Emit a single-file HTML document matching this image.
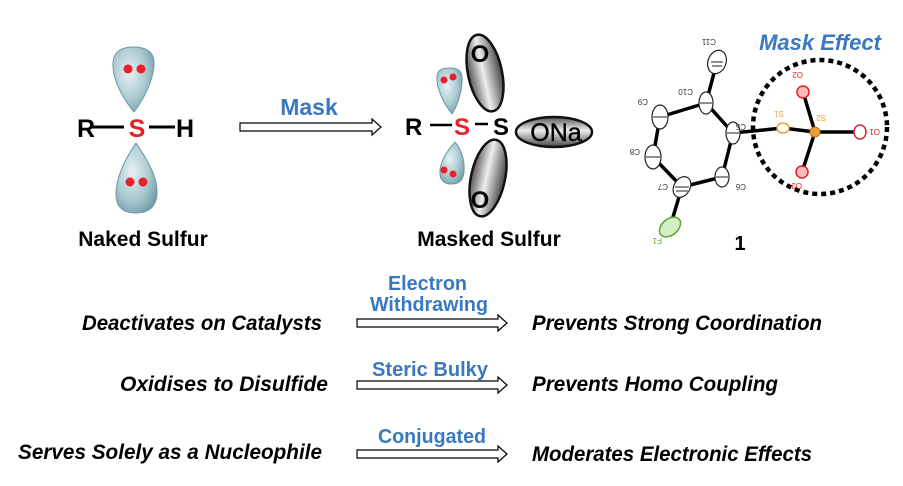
<!DOCTYPE html>
<html><head><meta charset="utf-8"><style>
html,body{margin:0;padding:0;background:#fff;}
svg{display:block;}
</style></head><body>
<svg width="903" height="486" viewBox="0 0 903 486" xmlns="http://www.w3.org/2000/svg" font-family="Liberation Sans, Arial, sans-serif">
<defs>
<radialGradient id="blue" cx="0.4" cy="0.4" r="0.7">
<stop offset="0" stop-color="#e6f1f3"/><stop offset="0.6" stop-color="#a9c8cf"/><stop offset="1" stop-color="#6d9aa4"/>
</radialGradient>
<linearGradient id="grey" x1="0" y1="0" x2="1" y2="0">
<stop offset="0" stop-color="#555"/><stop offset="0.45" stop-color="#eee"/><stop offset="1" stop-color="#444"/>
</linearGradient>
<linearGradient id="greyH" x1="0" y1="0" x2="0" y2="1">
<stop offset="0" stop-color="#555"/><stop offset="0.45" stop-color="#eee"/><stop offset="1" stop-color="#444"/>
</linearGradient>
</defs>

<!-- Naked sulfur -->
<path d="M134,112 C124,100 112,80 113,63 C114,49 124,47 134,47 C145,47 155,51 154,65 C153,82 143,100 134,112 Z" fill="url(#blue)" stroke="#6a9aa3" stroke-width="1"/>
<circle cx="128" cy="69" r="4.5" fill="#e8202a"/><circle cx="141" cy="69" r="4.5" fill="#e8202a"/>
<path d="M136,143 C145,156 158,176 157,194 C156,209 147,213 136,213 C125,213 116,209 116,194 C116,176 127,156 136,143 Z" fill="url(#blue)" stroke="#6a9aa3" stroke-width="1"/>
<circle cx="130" cy="182" r="4.5" fill="#e8202a"/><circle cx="143" cy="182" r="4.5" fill="#e8202a"/>
<line x1="92" y1="127" x2="124" y2="127" stroke="#000" stroke-width="3"/>
<line x1="149" y1="127" x2="175" y2="127" stroke="#000" stroke-width="3"/>
<text x="77" y="137" font-size="25" font-weight="bold">R</text>
<text x="137" y="137" font-size="25" font-weight="bold" fill="#e8202a" text-anchor="middle">S</text>
<text x="176" y="137" font-size="25" font-weight="bold">H</text>
<text x="143" y="246" font-size="21" font-weight="bold" text-anchor="middle">Naked Sulfur</text>

<!-- Mask arrow -->
<text x="309" y="115" font-size="23" font-weight="bold" fill="#3a78c0" text-anchor="middle">Mask</text>
<path d="M240,123 H372 V119 L381,127 L372,135 V131 H240 Z" fill="#fff" stroke="#000" stroke-width="1.2"/>

<!-- Masked sulfur -->
<ellipse cx="485" cy="73" rx="17" ry="39" transform="rotate(-12 485 73)" fill="url(#grey)" stroke="#111" stroke-width="2.5"/>
<text x="480" y="62" font-size="24" font-weight="bold" text-anchor="middle">O</text>
<ellipse cx="488" cy="178" rx="17" ry="39" transform="rotate(12 488 178)" fill="url(#grey)" stroke="#111" stroke-width="2.5"/>
<text x="480" y="208" font-size="24" font-weight="bold" text-anchor="middle">O</text>
<ellipse cx="554" cy="132" rx="38" ry="15" fill="url(#greyH)" stroke="#111" stroke-width="2.5"/>
<text x="556" y="141" font-size="25" text-anchor="middle" stroke="#000" stroke-width="0.4">ONa</text>
<path d="M452,114 C444,104 436,88 437,76 C438,68 445,68 451,68 C459,68 463,72 462,82 C461,95 457,106 452,114 Z" fill="url(#blue)" stroke="#6a9aa3" stroke-width="1"/>
<circle cx="444" cy="80" r="3.5" fill="#e8202a"/><circle cx="453" cy="77" r="3.5" fill="#e8202a"/>
<path d="M455,142 C462,150 465,162 464,172 C463,182 458,184 451,184 C444,184 439,180 440,170 C441,160 448,150 455,142 Z" fill="url(#blue)" stroke="#6a9aa3" stroke-width="1"/>
<circle cx="444" cy="170" r="3.5" fill="#e8202a"/><circle cx="453" cy="174" r="3.5" fill="#e8202a"/>
<line x1="430" y1="125" x2="452" y2="125" stroke="#000" stroke-width="2.5"/>
<line x1="475" y1="124" x2="488" y2="124" stroke="#000" stroke-width="2.5"/>
<text x="405" y="135" font-size="24" font-weight="bold">R</text>
<text x="462" y="135" font-size="24" font-weight="bold" fill="#e8202a" text-anchor="middle">S</text>
<text x="501" y="135" font-size="24" font-weight="bold" text-anchor="middle">S</text>
<text x="489" y="246" font-size="21" font-weight="bold" text-anchor="middle">Masked Sulfur</text>

<!-- crystal structure -->
<text x="820" y="50" font-size="22" font-weight="bold" font-style="italic" fill="#3a78c0" text-anchor="middle">Mask Effect</text>
<circle cx="820" cy="127" r="67" fill="none" stroke="#000" stroke-width="4.5" stroke-dasharray="5,4"/>
<g stroke="#000" stroke-width="3.5" fill="none">
<line x1="717" y1="62" x2="706" y2="103"/>
<line x1="706" y1="103" x2="660" y2="117"/>
<line x1="706" y1="103" x2="733" y2="133"/>
<line x1="660" y1="117" x2="653" y2="157"/>
<line x1="653" y1="157" x2="682" y2="187"/>
<line x1="682" y1="187" x2="722" y2="177"/>
<line x1="722" y1="177" x2="733" y2="133"/>
<line x1="682" y1="187" x2="670" y2="227"/>
<line x1="733" y1="133" x2="783" y2="128"/>
<line x1="783" y1="128" x2="815" y2="132"/>
<line x1="815" y1="132" x2="860" y2="132"/>
<line x1="815" y1="132" x2="803" y2="92"/>
<line x1="815" y1="132" x2="802" y2="172"/>
</g>
<g stroke="#222" stroke-width="1.2" fill="#fff">
<ellipse cx="717" cy="62" rx="9" ry="12" transform="rotate(20 717 62)"/>
<ellipse cx="706" cy="103" rx="7" ry="11"/>
<ellipse cx="660" cy="117" rx="8" ry="12"/>
<ellipse cx="653" cy="157" rx="8" ry="12"/>
<ellipse cx="682" cy="187" rx="8" ry="11" transform="rotate(30 682 187)"/>
<ellipse cx="722" cy="177" rx="7" ry="10"/>
<ellipse cx="733" cy="133" rx="7" ry="11"/>
</g>
<g stroke="#222" stroke-width="1">
<line x1="711" y1="62" x2="723" y2="62"/><line x1="712" y1="66" x2="722" y2="66"/>
<line x1="700" y1="103" x2="712" y2="103"/>
<line x1="653" y1="117" x2="667" y2="117"/>
<line x1="646" y1="157" x2="660" y2="157"/>
<line x1="675" y1="187" x2="689" y2="187"/><line x1="676" y1="191" x2="688" y2="191"/>
<line x1="716" y1="177" x2="728" y2="177"/>
<line x1="727" y1="133" x2="739" y2="133"/>
</g>
<ellipse cx="670" cy="227" rx="12" ry="8" transform="rotate(-40 670 227)" fill="#d4efc4" stroke="#5aa836" stroke-width="1.5"/>
<ellipse cx="783" cy="128" rx="6" ry="5" fill="#fff" stroke="#f0a030" stroke-width="1.5"/>
<ellipse cx="815" cy="132" rx="5" ry="5" fill="#f0a030" stroke="#c07010" stroke-width="1"/>
<ellipse cx="860" cy="132" rx="6" ry="7" fill="#fff" stroke="#e02020" stroke-width="1.5"/>
<ellipse cx="803" cy="92" rx="6" ry="6" fill="#fbb" stroke="#e02020" stroke-width="1.5"/>
<ellipse cx="802" cy="172" rx="6" ry="6" fill="#fbb" stroke="#e02020" stroke-width="1.5"/>
<g font-size="8" fill="#333">
<text x="708" y="45" transform="rotate(180 712 42)">C11</text>
<text x="683" y="95" transform="rotate(180 688 92)">C10</text>
<text x="640" y="105" transform="rotate(180 644 102)">C9</text>
<text x="632" y="155" transform="rotate(180 636 152)">C8</text>
<text x="660" y="190" transform="rotate(180 664 187)">C7</text>
<text x="738" y="190" transform="rotate(180 742 187)">C6</text>
<text x="738" y="130" transform="rotate(180 742 127)">C5</text>
<text x="776" y="117" fill="#f0a030" transform="rotate(180 780 114)">S1</text>
<text x="818" y="121" fill="#f0a030" transform="rotate(180 822 118)">S2</text>
<text x="872" y="135" fill="#e02020" transform="rotate(180 876 132)">O1</text>
<text x="795" y="78" fill="#e02020" transform="rotate(180 799 75)">O2</text>
<text x="794" y="189" fill="#e02020" transform="rotate(180 798 186)">O3</text>
<text x="654" y="244" fill="#5aa836" transform="rotate(180 658 241)">F1</text>
</g>
<text x="740" y="250" font-size="20" font-weight="bold" text-anchor="middle">1</text>

<!-- bottom rows -->
<g font-size="21" font-weight="bold" font-style="italic">
<text x="82" y="330" textLength="240" lengthAdjust="spacingAndGlyphs">Deactivates on Catalysts</text>
<text x="120" y="391" textLength="208" lengthAdjust="spacingAndGlyphs">Oxidises to Disulfide</text>
<text x="18" y="459" textLength="304" lengthAdjust="spacingAndGlyphs">Serves Solely as  a Nucleophile</text>
<text x="532" y="330" textLength="290" lengthAdjust="spacingAndGlyphs">Prevents Strong Coordination</text>
<text x="532" y="391" textLength="246" lengthAdjust="spacingAndGlyphs">Prevents Homo Coupling</text>
<text x="532" y="461" textLength="280" lengthAdjust="spacingAndGlyphs">Moderates Electronic Effects</text>
</g>
<g font-size="20" font-weight="bold" fill="#3a78c0">
<text x="388" y="290" textLength="79" lengthAdjust="spacingAndGlyphs">Electron</text>
<text x="370" y="311" textLength="118" lengthAdjust="spacingAndGlyphs">Withdrawing</text>
<text x="372" y="376" textLength="116" lengthAdjust="spacingAndGlyphs">Steric Bulky</text>
<text x="378" y="443" textLength="108" lengthAdjust="spacingAndGlyphs">Conjugated</text>
</g>
<g fill="#fff" stroke="#000" stroke-width="1.2">
<path d="M357,319 H498 V315 L507,323 L498,331 V327 H357 Z"/>
<path d="M357,381 H498 V377 L507,385 L498,393 V389 H357 Z"/>
<path d="M357,450 H498 V446 L507,454 L498,462 V458 H357 Z"/>
</g>
</svg>
</body></html>
